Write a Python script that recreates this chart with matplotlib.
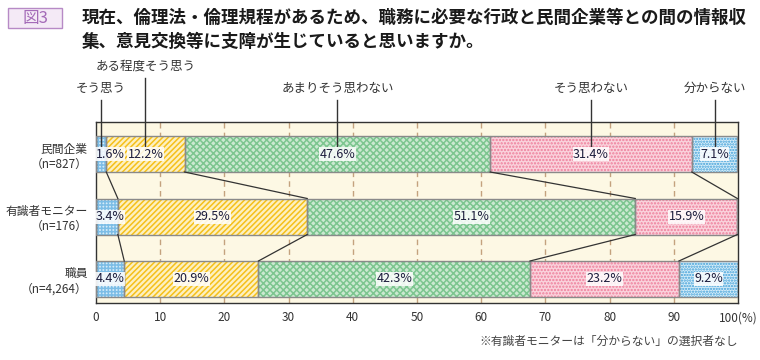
"""Stacked bar chart: 図3 倫理法・倫理規程による支障の有無."""

import matplotlib
matplotlib.use("Agg")
import matplotlib.pyplot as plt
import matplotlib.transforms as mtrans
import numpy as np

plt.rcParams['font.family'] = ['Noto Sans CJK JP', 'DejaVu Sans']
plt.rcParams['hatch.linewidth'] = 1.1

# data
categories = ['民間企業\n（n=827）', '有識者モニター\n（n=176）', '職員\n（n=4,264）']
responses = ['そう思う', 'ある程度そう思う', 'あまりそう思わない', 'そう思わない', '分からない']
pct_company = [1.6, 12.2, 47.6, 31.4, 7.1]
pct_monitor = [3.4, 29.5, 51.1, 15.9, 0.0]
pct_staff = [4.4, 20.9, 42.3, 23.2, 9.2]
xticks = [0, 10, 20, 30, 40, 50, 60, 70, 80, 90, 100]
title = ('現在、倫理法・倫理規程があるため、職務に必要な行政と民間企業等との間の情報収\n'
         '集、意見交換等に支障が生じていると思いますか。')
note = '※有識者モニターは「分からない」の選択者なし'

# styles: (face colour, hatch colour, hatch)
styles = [
    ('#d4ebf8', '#7cbde6', '+++++'),
    ('#fdf0c0', '#f5c01a', '//////'),
    ('#cbe9d1', '#7cc58f', 'xxxxx'),
    ('#fad2dc', '#ee7f9b', '.....'),
    ('#d6edf9', '#3f9fd8', '......'),
]
text_color = '#1c1c3c'
cream = '#fdf8e4'

rows = [pct_company, pct_monitor, pct_staff]
data = np.array(rows)
ypos = np.arange(len(rows))
bar_h = 0.576

fig = plt.figure(figsize=(7.6, 3.6), dpi=100)
ax = fig.add_axes([96 / 760, 1 - 303 / 360, 642 / 760, 181 / 360])
ax.set_facecolor(cream)

# grid
for xv in xticks[1:-1]:
    ax.axvline(xv, color='#c4a27e', lw=1.0, ls=(0, (4, 3)), zorder=1)

# stacked bars
left = np.zeros(len(rows))
for j in range(len(responses)):
    vals = data[:, j]
    fc, hc, hatch = styles[j]
    ax.barh(ypos, vals, left=left, height=bar_h, color=fc, edgecolor=hc,
            hatch=hatch, lw=0, zorder=2)
    ax.barh(ypos, vals, left=left, height=bar_h, fill=False,
            edgecolor='#8a8a8a', lw=1.0, zorder=3)
    for i, v in enumerate(vals):
        if v <= 0:
            continue
        xc = max(left[i] + v / 2, 2.2)
        ax.text(xc, ypos[i], f'{v:.1f}%', ha='center', va='center',
                fontsize=9, color=text_color, zorder=5,
                bbox=dict(fc='white', ec='none', pad=0.4, alpha=0.85))
    left = left + vals

# connecting lines between rows
cum = np.cumsum(data, axis=1)
for i in range(len(rows) - 1):
    for j in range(len(responses) - 1):
        x0 = min(cum[i, j], 100)
        x1 = min(cum[i + 1, j], 100)
        ax.plot([x0, x1], [ypos[i] + bar_h / 2, ypos[i + 1] - bar_h / 2],
                color='#333333', lw=0.9, zorder=4, clip_on=False)

ax.set_xlim(0, 100)
ax.set_ylim(2 + 24 / 62.5, -32 / 62.5)
ax.set_xticks(xticks)
ax.set_xticklabels([str(x) for x in xticks[:-1]] + ['100(%)'])
ax.set_yticks(ypos)
ax.set_yticklabels(categories)
ax.tick_params(axis='both', length=0, labelsize=8.5, colors='#333333')
ax.tick_params(axis='x', pad=6)
ax.tick_params(axis='y', pad=6)
for sp in ax.spines.values():
    sp.set_color('#333333')
    sp.set_linewidth(1.0)

# legend labels with leader lines
trans = mtrans.blended_transform_factory(ax.transData, fig.transFigure)
mids = np.cumsum(pct_company) - np.array(pct_company) / 2
for j, name in enumerate(responses):
    upper = (j == 1)
    y_text = 1 - (66 if upper else 88) / 360
    y_top = 1 - (78 if upper else 100) / 360
    ax.text(mids[j], y_text, name, transform=trans, ha='center', va='center',
            fontsize=9, color='#333333')
    ax.plot([mids[j], mids[j]], [y_top, 1 - 146 / 360], transform=trans,
            color='#333333', lw=1.0, clip_on=False, zorder=4)

# header
fig.patches.append(plt.Rectangle((8 / 760, 1 - 28 / 360), 54 / 760, 20 / 360,
                                 transform=fig.transFigure, fc='#f4eaf6',
                                 ec='#b78ac6', lw=1.0, zorder=0))
fig.text(35 / 760, 1 - 18 / 360, '図3', ha='center', va='center', fontsize=12,
         color='#a46bb8')
fig.text(82 / 760, 1 - 30 / 360, title, ha='left', va='center', fontsize=12.6,
         fontweight='bold', color='#1a1a1a', linespacing=1.4)

fig.text(738 / 760, 1 - 341 / 360, note, ha='right', va='center', fontsize=8.5,
         color='#444444')

fig.savefig('out.png', dpi=100)
